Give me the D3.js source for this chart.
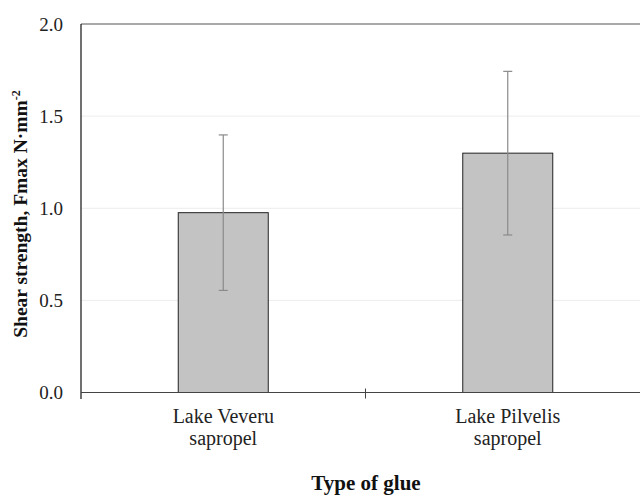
<!DOCTYPE html>
<html><head><meta charset="utf-8">
<script src="https://cdn.jsdelivr.net/npm/d3@7"></script>
<style>body{margin:0;background:#fff}svg{display:block}</style>
</head><body>
<svg id="c" width="640" height="496"></svg>
<script>
const categories = [["Lake Veveru","sapropel"],["Lake Pilvelis","sapropel"]];
const values = [0.976, 1.299];
const errors = [0.422, 0.444];
const yTicks = [0.0, 0.5, 1.0, 1.5, 2.0];

const svg = d3.select("#c");
const L = 81, R = 650, T = 24, B = 392.5;
const FONT = "Liberation Serif";

const x = d3.scaleBand().domain(d3.range(categories.length)).range([L, R]).paddingInner(0).paddingOuter(0);
const y = d3.scaleLinear().domain([0, 2]).range([B, T]);

// gridlines
svg.append("g").selectAll("line").data(yTicks.filter(d => d > 0 && d < 2)).join("line")
  .attr("x1", L).attr("x2", R).attr("y1", d => y(d)).attr("y2", d => y(d))
  .attr("stroke", "#ececec").attr("stroke-width", 1);

// top border
svg.append("line").attr("x1", L).attr("x2", R).attr("y1", y(2)).attr("y2", y(2))
  .attr("stroke", "#555").attr("stroke-width", 1.2);

// bars
const bw = 90;
svg.append("g").selectAll("rect").data(values).join("rect")
  .attr("x", (d, i) => x(i) + x.bandwidth() / 2 - bw / 2)
  .attr("width", bw)
  .attr("y", d => y(d)).attr("height", d => y(0) - y(d))
  .attr("fill", "#c3c3c3").attr("stroke", "#222").attr("stroke-width", 1);

// error bars
const eg = svg.append("g").attr("stroke", "#8a8a8a").attr("stroke-width", 1.2);
values.forEach((v, i) => {
  const cx = x(i) + x.bandwidth() / 2;
  eg.append("line").attr("x1", cx).attr("x2", cx).attr("y1", y(v + errors[i])).attr("y2", y(v - errors[i]));
  eg.append("line").attr("x1", cx - 4.5).attr("x2", cx + 4.5).attr("y1", y(v + errors[i])).attr("y2", y(v + errors[i]));
  eg.append("line").attr("x1", cx - 4.5).attr("x2", cx + 4.5).attr("y1", y(v - errors[i])).attr("y2", y(v - errors[i]));
});

// y axis
const ya = svg.append("g").attr("transform", `translate(${L},0)`)
  .call(d3.axisLeft(y).tickValues(yTicks).tickFormat(d3.format(".1f")).tickSize(0).tickPadding(18));
ya.attr("font-family", FONT).attr("font-size", 19);
ya.select(".domain").attr("stroke", "#111").attr("stroke-width", 1.2).attr("d", `M0,${T}V${B + 6.5}`);
ya.selectAll("text").attr("font-family", FONT).attr("font-size", 19).attr("fill", "#222");

// x axis
const bounds = [L, L + x.bandwidth(), R];
const xa = svg.append("g").attr("transform", `translate(0,${B})`);
xa.append("line").attr("x1", L).attr("x2", R).attr("stroke", "#444").attr("stroke-width", 1.2);
xa.selectAll(".t").data(bounds.slice(1, 2)).join("line").attr("class", "t")
  .attr("x1", d => d).attr("x2", d => d).attr("y1", -4).attr("y2", 6).attr("stroke", "#444");
categories.forEach((c, i) => {
  const t = xa.append("text").attr("x", x(i) + x.bandwidth() / 2).attr("y", 30)
    .attr("text-anchor", "middle").attr("font-family", FONT).attr("font-size", 20).attr("fill", "#222");
  c.forEach((line, j) => t.append("tspan").attr("x", x(i) + x.bandwidth() / 2).attr("dy", j ? 22 : 0).text(line));
});

// axis titles
svg.append("text").attr("x", 366).attr("y", 490).attr("text-anchor", "middle").attr("font-family", FONT)
  .attr("font-weight", "bold").attr("font-size", 21).attr("fill", "#111").text("Type of glue");
const yt = svg.append("text").attr("transform", "translate(27,214) rotate(-90)").attr("text-anchor", "middle")
  .attr("font-family", FONT).attr("font-weight", "bold").attr("font-size", 19.5).attr("fill", "#111");
yt.append("tspan").text("Shear strength, Fmax N·mm");
yt.append("tspan").attr("dy", -7).attr("font-size", 12).text("-2");
</script>
</body></html>
